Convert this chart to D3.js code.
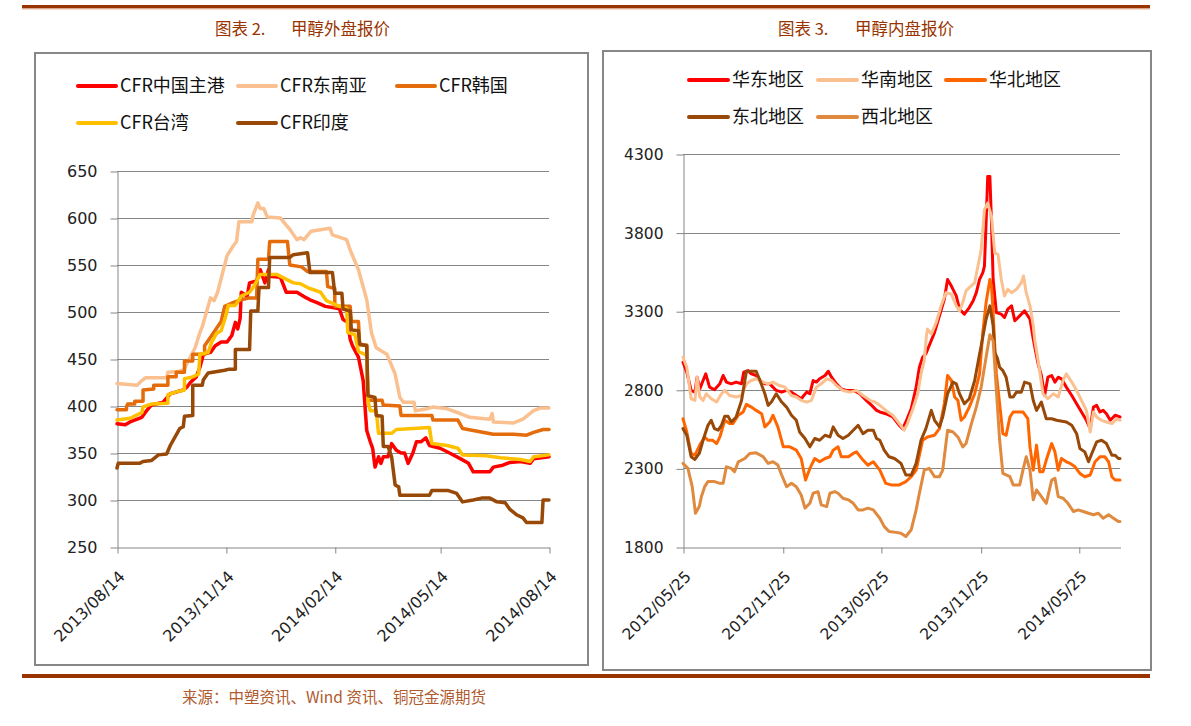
<!DOCTYPE html>
<html><head><meta charset="utf-8">
<script src="https://cdn.jsdelivr.net/npm/d3@7/dist/d3.min.js"></script>
<style>body{margin:0;background:#fff}svg{display:block}</style>
</head><body>
<svg id="c" width="1191" height="726"></svg>
<script>
// ---------------- LEFT CHART DATA (甲醇外盘报价) ----------------
// points: [days since leftStart, USD/t]
const leftStart = "2013-08-14";
const leftEnd = "2014-08-14";
const leftTickDates = ["2013-08-14","2013-11-14","2014-02-14","2014-05-14","2014-08-14"];
const leftYTicks = [250,300,350,400,450,500,550,600,650];
const leftNames = ["CFR中国主港","CFR东南亚","CFR韩国","CFR台湾","CFR印度"];
const leftColors = ["#FF0000","#FAC090","#E46C0A","#FFC000","#984807"];

const cfrChina = [[0,381],[7,380],[11,383],[21,388],[25,395],[29,401],[39,404],[45,413],[56,417],[59,420],[62,425],[67,431],[70,441],[73,455],[79,457],[83,464],[88,468],[93,468],[97,475],[100,489],[102,482],[104,493],[105,521],[110,517],[112,531],[118,533],[121,545],[125,531],[128,545],[129,538],[138,537],[143,521],[152,521],[160,515],[163,513],[169,510],[176,506],[186,504],[188,503],[191,492],[195,489],[197,471],[199,464],[204,452],[208,427],[211,374],[214,362],[216,355],[218,335],[221,346],[223,339],[225,346],[229,346],[232,360],[236,353],[240,350],[243,350],[246,339],[250,350],[253,362],[257,362],[261,366],[264,358],[273,355],[281,350],[290,344],[297,339],[301,330],[315,330],[318,335],[326,337],[332,340],[341,341],[349,339],[352,344],[365,346]];
const cfrSEAsia = [[0,424],[17,422],[21,427],[24,430],[42,430],[43,436],[53,437],[57,439],[59,445],[66,462],[70,478],[72,484],[79,515],[82,512],[85,521],[93,560],[98,570],[101,575],[103,596],[114,596],[115,603],[119,616],[121,610],[124,610],[127,601],[138,600],[146,588],[152,577],[155,579],[158,577],[164,586],[180,589],[182,582],[194,577],[197,566],[204,545],[211,513],[215,478],[219,462],[228,455],[235,434],[239,409],[242,404],[251,404],[252,395],[262,397],[267,399],[279,397],[290,392],[298,388],[315,386],[317,392],[318,383],[335,382],[343,386],[352,395],[358,398],[365,398]];
const cfrKorea = [[0,396],[8,396],[8,399],[9,402],[15,402],[15,405],[22,405],[22,417],[31,418],[31,422],[43,422],[43,431],[50,431],[50,436],[57,436],[57,448],[64,448],[64,455],[74,455],[74,464],[80,475],[88,490],[91,506],[98,510],[105,513],[112,515],[118,515],[119,556],[128,556],[129,575],[144,575],[146,550],[156,548],[161,543],[177,543],[178,527],[184,525],[184,506],[197,506],[198,490],[204,490],[205,465],[211,465],[212,406],[224,406],[225,401],[239,400],[240,390],[266,390],[267,385],[288,385],[292,376],[301,374],[318,370],[335,370],[346,369],[352,372],[360,375],[365,375]];
const cfrTaiwan = [[0,385],[11,387],[21,393],[22,399],[29,402],[43,403],[43,412],[50,415],[57,417],[57,429],[64,431],[69,434],[70,455],[77,457],[80,468],[84,477],[88,480],[92,496],[94,507],[100,507],[105,517],[112,521],[115,526],[121,540],[135,540],[149,531],[155,530],[161,526],[172,521],[177,512],[188,506],[194,504],[195,478],[201,476],[204,458],[211,454],[212,406],[214,395],[219,395],[221,371],[232,371],[236,375],[264,377],[266,360],[279,358],[288,355],[292,348],[312,347],[324,345],[341,343],[349,341],[352,346],[365,348]];
const cfrIndia = [[0,334],[1,339],[19,339],[22,341],[29,342],[35,348],[42,349],[45,358],[53,376],[56,378],[57,389],[64,390],[64,422],[72,422],[73,428],[77,435],[91,438],[94,439],[100,439],[100,460],[112,460],[113,501],[119,501],[120,526],[128,526],[129,558],[146,558],[149,561],[161,563],[163,542],[182,542],[184,520],[190,520],[191,503],[197,501],[198,481],[204,480],[205,466],[211,464],[212,411],[218,409],[219,390],[224,389],[225,357],[229,357],[232,346],[235,316],[238,314],[239,305],[264,305],[266,310],[280,310],[287,307],[292,298],[301,300],[308,302],[315,302],[321,298],[328,297],[332,290],[338,284],[343,281],[346,276],[359,276],[360,300],[365,300]];

// ---------------- RIGHT CHART DATA (甲醇内盘报价) ----------------
// points: [days since rightStart, CNY/t]
const rightStart = "2012-05-25";
const rightEnd = "2014-08-09";
const rightTickDates = ["2012-05-25","2012-11-25","2013-05-25","2013-11-25","2014-05-25"];
const rightYTicks = [1800,2300,2800,3300,3800,4300];
const rightNames = ["华东地区","华南地区","华北地区","东北地区","西北地区"];
const rightColors = ["#FF0000","#FAC090","#FF6600","#984807","#DF8A3E"];

const eastChina = [[0,2975],[7,2912],[15,2796],[22,2785],[26,2880],[31,2806],[37,2859],[42,2901],[49,2817],[58,2800],[68,2838],[74,2891],[80,2849],[89,2838],[98,2849],[108,2838],[112,2912],[120,2922],[126,2901],[135,2891],[142,2859],[151,2838],[160,2838],[172,2796],[182,2785],[191,2796],[200,2785],[209,2764],[218,2743],[228,2785],[234,2775],[240,2859],[246,2849],[252,2870],[262,2891],[268,2918],[274,2880],[283,2838],[292,2806],[301,2796],[314,2796],[326,2775],[338,2733],[348,2701],[357,2669],[363,2659],[374,2648],[387,2627],[399,2574],[405,2553],[411,2595],[421,2680],[430,2817],[436,2943],[442,3007],[448,3030],[454,3080],[464,3165],[473,3270],[482,3376],[488,3502],[495,3460],[501,3418],[504,3397],[510,3313],[519,3281],[528,3323],[535,3365],[541,3418],[547,3502],[553,3545],[556,3587],[559,3861],[562,4157],[566,4157],[569,3861],[572,3502],[578,3291],[587,3281],[593,3260],[599,3313],[606,3334],[612,3239],[621,3270],[630,3302],[640,3249],[646,3123],[649,3070],[655,2965],[661,2891],[667,2764],[673,2880],[680,2891],[686,2849],[692,2880],[698,2870],[707,2817],[717,2764],[726,2711],[735,2659],[744,2606],[751,2553],[757,2690],[763,2701],[769,2659],[775,2669],[781,2648],[788,2606],[797,2638],[806,2627]];
const southChina = [[0,3007],[7,2943],[15,2743],[22,2733],[26,2880],[31,2754],[37,2733],[43,2775],[52,2743],[62,2722],[71,2775],[77,2796],[86,2764],[98,2754],[108,2764],[117,2838],[126,2859],[135,2870],[148,2849],[157,2838],[166,2849],[178,2827],[188,2817],[200,2764],[209,2754],[218,2733],[228,2722],[237,2733],[246,2817],[255,2838],[265,2870],[274,2859],[283,2827],[295,2796],[308,2785],[320,2796],[332,2764],[345,2733],[354,2722],[363,2701],[374,2669],[387,2638],[399,2585],[408,2543],[414,2585],[424,2680],[433,2775],[439,2901],[445,2985],[449,3144],[451,3186],[458,3154],[467,3228],[476,3334],[485,3418],[495,3408],[504,3334],[510,3302],[516,3355],[522,3429],[528,3450],[538,3481],[544,3587],[550,3692],[556,3946],[562,3988],[569,3903],[575,3671],[581,3661],[587,3502],[593,3397],[599,3439],[606,3418],[615,3439],[624,3481],[628,3524],[633,3418],[640,3334],[646,3207],[649,3112],[655,2985],[664,2775],[673,2743],[683,2775],[692,2754],[701,2859],[707,2901],[717,2849],[726,2796],[735,2732],[744,2669],[751,2532],[757,2659],[763,2627],[772,2606],[781,2595],[791,2585],[800,2616],[806,2606]];
const northChina = [[0,2616],[7,2532],[15,2395],[22,2384],[31,2448],[40,2500],[46,2479],[55,2479],[62,2458],[68,2500],[77,2606],[86,2585],[92,2585],[102,2638],[111,2659],[117,2707],[126,2690],[135,2669],[145,2648],[151,2564],[160,2595],[166,2638],[175,2564],[185,2437],[197,2437],[209,2416],[218,2363],[226,2226],[234,2300],[243,2363],[252,2342],[262,2363],[271,2374],[277,2416],[286,2437],[292,2374],[305,2374],[314,2395],[320,2405],[332,2353],[341,2321],[351,2342],[363,2289],[374,2205],[384,2195],[399,2195],[411,2216],[421,2247],[430,2289],[442,2479],[451,2500],[464,2511],[473,2553],[482,2711],[488,2891],[495,2859],[501,2754],[507,2733],[513,2606],[519,2627],[528,2690],[538,2775],[547,2901],[553,3165],[559,3355],[566,3502],[569,3460],[572,3291],[575,3080],[578,2901],[584,2711],[590,2521],[596,2511],[603,2627],[609,2659],[627,2659],[636,2616],[640,2437],[646,2289],[652,2448],[658,2279],[664,2279],[670,2353],[680,2458],[686,2405],[692,2289],[698,2363],[707,2342],[714,2332],[723,2310],[732,2268],[741,2247],[751,2258],[760,2342],[769,2374],[778,2374],[785,2342],[791,2247],[797,2226],[806,2226]];
const northeast = [[0,2553],[7,2511],[15,2374],[22,2357],[30,2395],[37,2479],[46,2574],[52,2606],[58,2553],[65,2543],[71,2574],[77,2631],[83,2631],[89,2595],[98,2627],[108,2732],[117,2918],[135,2918],[142,2859],[151,2775],[157,2701],[163,2722],[172,2775],[182,2722],[191,2690],[200,2638],[209,2606],[215,2532],[225,2490],[234,2437],[243,2490],[252,2479],[262,2511],[271,2500],[277,2564],[286,2511],[295,2490],[305,2511],[314,2543],[323,2574],[332,2521],[341,2543],[351,2543],[357,2490],[363,2479],[371,2416],[380,2374],[390,2363],[402,2332],[411,2258],[421,2258],[430,2332],[439,2479],[448,2553],[458,2669],[464,2606],[473,2564],[479,2627],[488,2775],[498,2849],[504,2838],[510,2775],[519,2711],[528,2743],[538,2859],[547,3028],[550,3080],[559,3249],[566,3334],[572,3207],[575,3038],[580,3000],[584,2943],[590,2922],[596,2880],[603,2754],[609,2754],[615,2785],[624,2785],[630,2849],[640,2838],[646,2732],[652,2669],[661,2722],[670,2616],[680,2616],[689,2606],[707,2595],[717,2574],[726,2521],[732,2427],[741,2405],[748,2342],[754,2395],[763,2469],[772,2479],[781,2458],[791,2384],[797,2384],[803,2363],[806,2363]];
const northwest = [[0,2332],[9,2300],[17,2184],[23,2015],[30,2057],[34,2121],[40,2184],[46,2216],[58,2216],[68,2205],[74,2205],[80,2310],[89,2300],[95,2279],[102,2342],[114,2363],[123,2395],[135,2399],[148,2374],[157,2332],[166,2342],[175,2321],[182,2258],[191,2184],[200,2205],[209,2184],[218,2131],[225,2047],[234,2078],[240,2142],[249,2152],[255,2068],[265,2057],[271,2142],[280,2152],[286,2142],[295,2110],[305,2100],[314,2078],[323,2036],[332,2036],[341,2047],[351,2036],[363,1983],[371,1931],[380,1899],[393,1893],[402,1888],[411,1867],[421,1910],[430,2036],[436,2142],[445,2289],[454,2300],[464,2247],[473,2247],[479,2289],[488,2543],[498,2532],[507,2500],[516,2437],[522,2458],[532,2585],[541,2690],[550,2817],[559,3007],[566,3150],[572,3112],[578,2796],[584,2479],[590,2268],[603,2247],[609,2195],[621,2195],[627,2289],[633,2374],[640,2289],[646,2100],[652,2163],[661,2121],[670,2078],[680,2226],[686,2237],[692,2121],[701,2110],[710,2078],[720,2026],[729,2036],[738,2026],[748,2015],[757,2005],[766,2015],[775,1983],[785,2005],[794,1983],[803,1962],[806,1962]];

const leftSeries = [cfrChina, cfrSEAsia, cfrKorea, cfrTaiwan, cfrIndia];
const rightSeries = [eastChina, southChina, northChina, northeast, northwest];

// ---------------- DRAWING ----------------
const svg = d3.select("#c");
const parse = d3.timeParse("%Y-%m-%d");
const brown = "#993300";
const gridCol = "#868686";
const fontLatin = "'DejaVu Sans', sans-serif";
const fontCJK = "'Noto Sans CJK SC', 'Noto Sans', sans-serif";

// decorative rules
svg.append("rect").attr("x",22).attr("y",5).attr("width",1128).attr("height",3.5).attr("fill",brown);
svg.append("rect").attr("x",22).attr("y",8.5).attr("width",1128).attr("height",1).attr("fill","#E7B79B");
svg.append("rect").attr("x",22).attr("y",674).attr("width",1128).attr("height",4).attr("fill",brown);

// titles
function title(x1, t1, x2, t2) {
  svg.append("text").attr("x",x1).attr("y",35).attr("fill",brown).attr("font-family",fontCJK).attr("font-size",16.5).text(t1);
  svg.append("text").attr("x",x2).attr("y",35).attr("fill",brown).attr("font-family",fontCJK).attr("font-size",16.5).text(t2);
}
title(215,"图表 2.",291,"甲醇外盘报价");
title(778,"图表 3.",855,"甲醇内盘报价");

svg.append("text").attr("x",182).attr("y",703).attr("fill","#B05A2E").attr("font-family",fontCJK).attr("font-size",15.5).text("来源：中塑资讯、Wind 资讯、铜冠金源期货");

function drawChart(cfg) {
  const g = svg.append("g");
  g.append("rect").attr("x",cfg.frame[0]).attr("y",cfg.frame[1]).attr("width",cfg.frame[2]).attr("height",cfg.frame[3])
    .attr("fill","none").attr("stroke","#878787").attr("stroke-width",2);

  const start = parse(cfg.start);
  const x = d3.scaleTime().domain([start, parse(cfg.end)]).range([cfg.x0, cfg.x1]);
  const y = d3.scaleLinear().domain([cfg.yTicks[0], cfg.yTicks[cfg.yTicks.length-1]]).range([cfg.yBottom, cfg.yTop]);

  // gridlines
  g.append("g").selectAll("line").data(cfg.yTicks.slice(1)).join("line")
    .attr("x1",cfg.x0).attr("x2",cfg.x1).attr("y1",d=>Math.round(y(d))+0.5).attr("y2",d=>Math.round(y(d))+0.5)
    .attr("stroke",gridCol).attr("stroke-width",1);

  // y axis
  const ya = g.append("g").attr("transform",`translate(${cfg.x0+0.5},0.5)`)
    .call(d3.axisLeft(y).tickValues(cfg.yTicks).tickSizeInner(7).tickSizeOuter(0).tickPadding(13).tickFormat(d3.format("d")));
  ya.select(".domain").attr("stroke",gridCol);
  ya.selectAll(".tick line").attr("stroke",gridCol);
  ya.selectAll("text").attr("font-family",fontLatin).attr("font-size",cfg.labelSize).attr("fill","#222");

  // x axis
  const xa = g.append("g").attr("transform",`translate(0.5,${Math.round(cfg.yBottom)+0.5})`)
    .call(d3.axisBottom(x).tickValues(cfg.xTicks.map(parse)).tickSizeInner(6).tickSizeOuter(0).tickFormat(d3.timeFormat("%Y/%m/%d")));
  xa.select(".domain").attr("stroke",gridCol);
  xa.selectAll(".tick line").attr("stroke",gridCol);
  xa.selectAll("text").attr("font-family",fontLatin).attr("font-size",cfg.labelSize).attr("fill","#222")
    .attr("text-anchor","end").attr("y",0).attr("dy",0).attr("x",0)
    .attr("transform","translate(8,30) rotate(-45)");

  // series
  const line = d3.line().x(d=>x(d3.timeDay.offset(start,d[0]))).y(d=>y(d[1])).curve(d3.curveLinear);
  cfg.series.forEach((s,i)=>{
    g.append("path").datum(s).attr("d",line).attr("fill","none")
      .attr("stroke",cfg.colors[i]).attr("stroke-width",cfg.lw).attr("stroke-linejoin","round").attr("stroke-linecap","round");
  });

  // legend
  cfg.legendPos.forEach((p,i)=>{
    g.append("line").attr("x1",p[0]).attr("x2",p[0]+cfg.legLen).attr("y1",p[1]).attr("y2",p[1])
      .attr("stroke",cfg.colors[i]).attr("stroke-width",4).attr("stroke-linecap","round");
    g.append("text").attr("x",p[0]+cfg.legLen+4).attr("y",p[1]).attr("dy","0.36em")
      .attr("font-family",fontCJK).attr("font-size",18).attr("fill","#111").text(cfg.names[i]);
  });
}

drawChart({
  frame:[35,53,553,612], start:leftStart, end:leftEnd, x0:117, x1:549, yBottom:547, yTop:171,
  yTicks:leftYTicks, xTicks:leftTickDates, series:leftSeries, colors:leftColors, names:leftNames,
  lw:3.5, labelSize:16, legLen:38,
  legendPos:[[78,86],[238,86],[397,86],[78,123],[238,123]]
});
drawChart({
  frame:[603,51,548,619], start:rightStart, end:rightEnd, x0:683, x1:1120, yBottom:547, yTop:154,
  yTicks:rightYTicks, xTicks:rightTickDates, series:rightSeries, colors:rightColors, names:rightNames,
  lw:3, labelSize:15.5, legLen:39,
  legendPos:[[689,80],[818,80],[946,80],[689,117],[818,117]]
});
</script>
</body></html>
